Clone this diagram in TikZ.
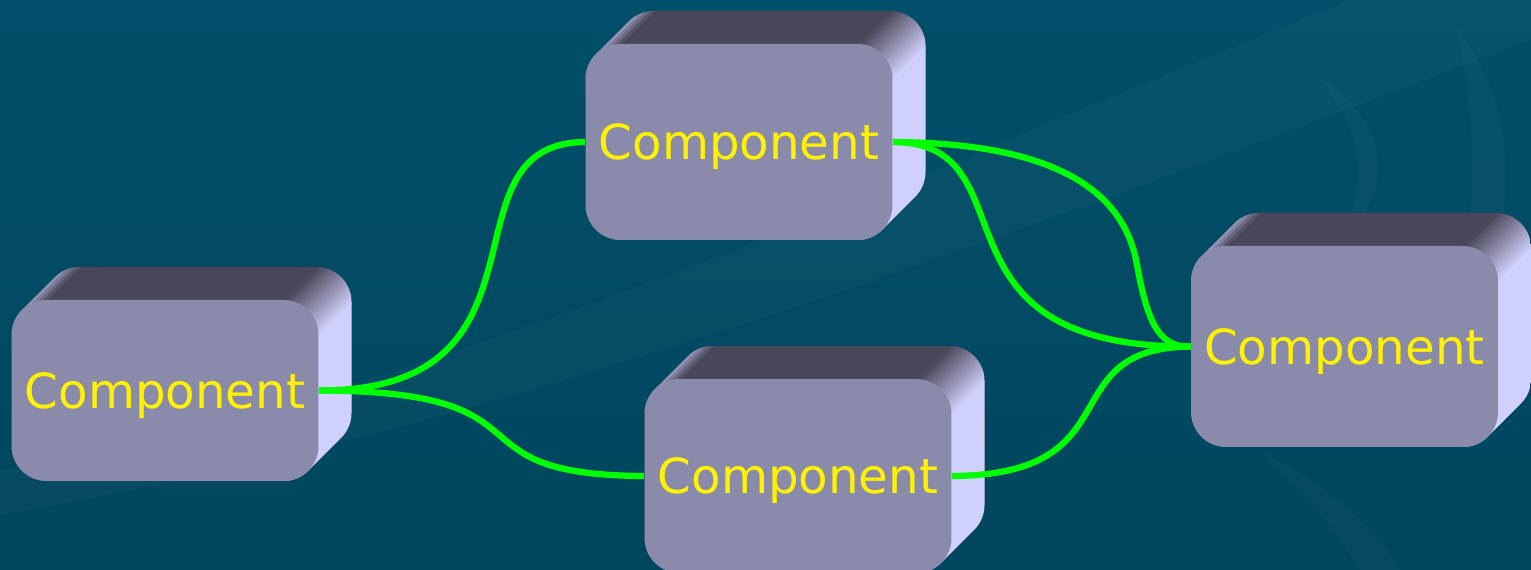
\documentclass[tikz,border=0pt]{standalone}
\usepackage{fontspec}
\setmainfont{DejaVu Sans}

\definecolor{bgcol}{RGB}{1,79,106}
\definecolor{bglow}{RGB}{0,70,94}
\definecolor{frontcol}{RGB}{138,138,170}
\definecolor{topcol}{RGB}{72,70,88}
\definecolor{sidecol}{RGB}{208,208,252}
\definecolor{wirecol}{RGB}{0,255,0}

\tikzset{
  comp/.style={fill=frontcol, rounded corners=0.7cm, minimum width=6.14cm,
    inner sep=0pt, text depth=0pt, text=yellow, font=\fontsize{27.5}{33}\selectfont},
  wire/.style={draw=wirecol, line width=0.125cm},
  haze/.style={fill=white, opacity=0.025}
}

\begin{document}
\begin{tikzpicture}[x=0.02cm, y=-0.02cm]
    \useasboundingbox (0,0) rectangle (1531,570);
    \clip (0,0) rectangle (1531,570);
    \shade[top color=bgcol, bottom color=bglow] (0,0) rectangle (1531,570);
    % faint swirls in the backdrop
    \fill[haze] (0,515) .. controls (500,430) and (1000,240) .. (1531,40) -- (1531,0)
      -- (1350,0) .. controls (900,180) and (450,390) .. (0,470) -- cycle;
    \fill[haze] (1455,25) .. controls (1530,120) and (1520,260) .. (1440,360)
      .. controls (1480,250) and (1480,130) .. (1455,25) -- cycle;
    \fill[haze] (1315,75) .. controls (1390,120) and (1400,190) .. (1340,240)
      .. controls (1370,180) and (1360,120) .. (1315,75) -- cycle;
    \fill[haze] (1260,450) .. controls (1330,490) and (1380,530) .. (1400,570)
      -- (1360,570) .. controls (1330,520) and (1300,490) .. (1260,450) -- cycle;

    % boxes: extruded body first, then the front face
    \foreach \n/\cx/\cy/\h in {up/739/142/196, lt/165/390.5/181, dn/798/476/194, rt/1344.5/346.5/201} {
      \pgfmathsetmacro\xa{\cx-153.5}
      \pgfmathsetmacro\xb{\cx+153.5}
      \pgfmathsetmacro\ya{\cy-\h/2}
      \pgfmathsetmacro\yb{\cy+\h/2}
      \pgfmathsetmacro\pa{\xb+\ya-35}
      \pgfmathsetmacro\pl{\xa+\ya+20}
      \begin{scope}
        \clip[rounded corners=0.7cm] \foreach \t in {0,...,33} {(\xa+\t,\ya-\t) rectangle (\xb+\t,\yb-\t)};
        \fill[topcol] (\xa-60,\ya-60) rectangle (\xb+60,\yb+60);
        \foreach \k in {0,...,3} {
          \pgfmathsetmacro\pk{\pl+4*\k}
          \pgfmathsetmacro\mix{45+15*\k}
          \fill[topcol!\mix!sidecol] (\pk+200,-200) -- (\pk+204.5,-200) -- (\pk-795.5,800) -- (\pk-800,800) -- cycle;
        }
        \foreach \k in {0,...,13} {
          \pgfmathsetmacro\pk{\pa+5*\k}
          \pgfmathsetmacro\mix{97-7*\k}
          \fill[topcol!\mix!sidecol] (\pk+200,-200) -- (\pk+205.5,-200) -- (\pk-794.5,800) -- (\pk-800,800) -- cycle;
        }
        \fill[sidecol] (\pa+270,-200) -- (4000,-200) -- (4000,800) -- (\pa-730,800) -- cycle;
      \end{scope}
      \node[comp, minimum height=\h*0.02cm] (\n) at (\cx,\cy) {Component};
    }

    % links
    \draw[wire] (lt.east) .. controls (568,391) and (435,143) .. (up.west);
    \draw[wire] (lt.east) .. controls (564,391) and (440,475) .. (dn.west);
    \draw[wire] (up.east) .. controls (1062,143) and (1125,195) .. (1137,265)
      .. controls (1147,320) and (1158,348) .. (rt.west);
    \draw[wire] (up.east) .. controls (1037,143) and (916,348) .. (rt.west);
    \draw[wire] (dn.east) .. controls (1136,475) and (1049,348) .. (rt.west);
\end{tikzpicture}
\end{document}
